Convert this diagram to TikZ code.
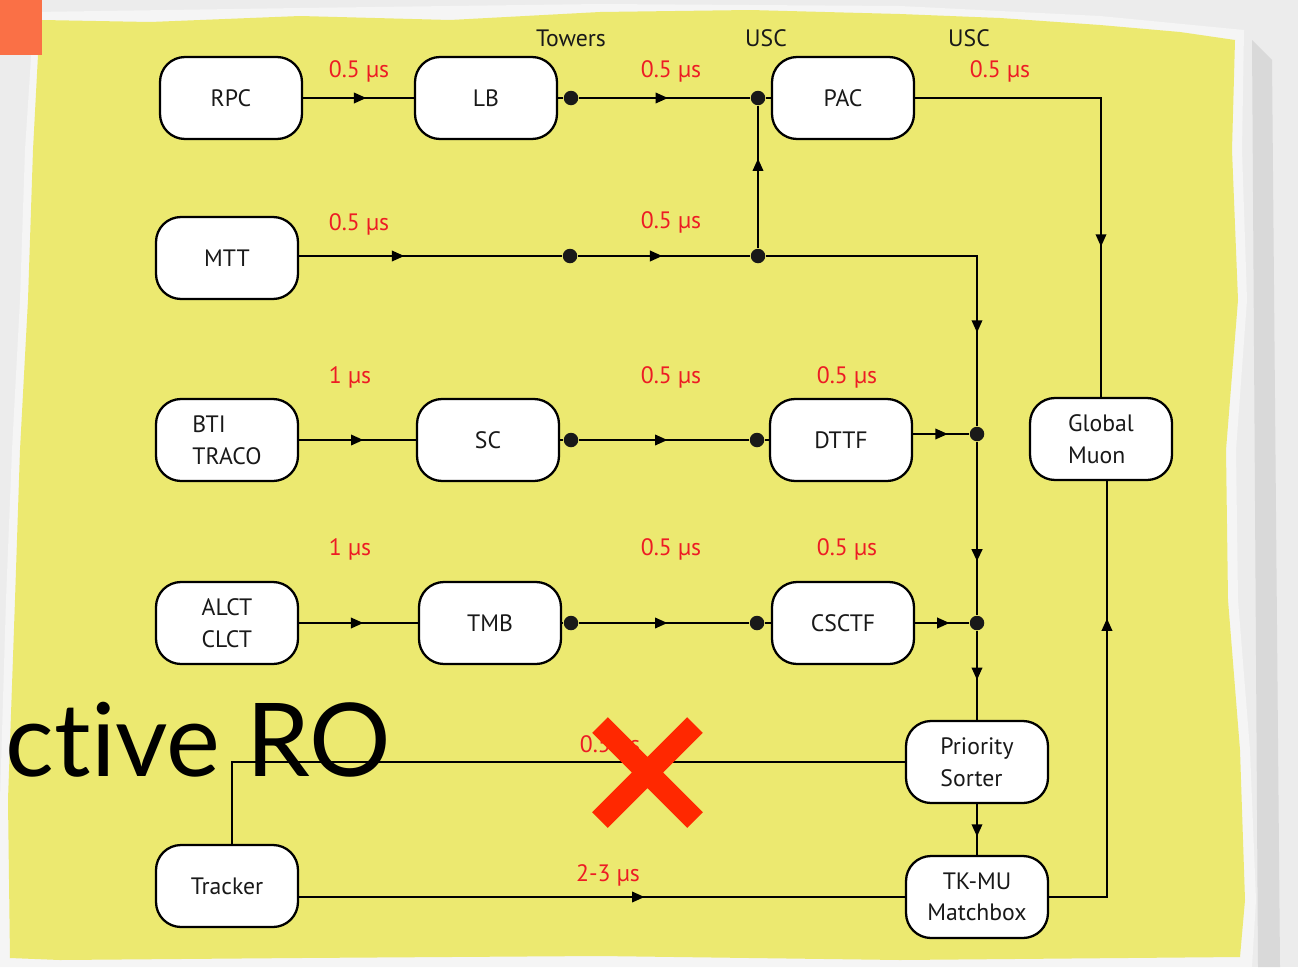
\documentclass[tikz,border=0pt]{standalone}
\usepackage{fontspec}
\setmainfont{PT Sans}
\newfontfamily\bigfont[Ligatures=NoCommon]{Lato}
\usetikzlibrary{arrows.meta,decorations.markings}
\definecolor{paper}{RGB}{236,233,112}
\definecolor{labred}{RGB}{237,28,36}
\definecolor{crossred}{RGB}{255,40,0}
\definecolor{tab}{RGB}{250,112,70}
\tikzset{
  blk/.style={draw,line width=1.3pt,rounded corners=0.5cm,fill=white,
    minimum width=2.84cm,minimum height=1.64cm,inner sep=2pt,
    font=\fontsize{13.5}{18}\selectfont,text=black!90},
  dot/.style={circle,fill=black!90,inner sep=0pt,minimum size=0.29cm},
  lat/.style={text=labred,font=\fontsize{13.5}{16}\selectfont},
  loc/.style={text=black!90,font=\fontsize{13.5}{16}\selectfont},
  flow/.style={postaction={decorate},decoration={markings,
    mark=at position #1 with {\arrow{Triangle[length=7pt,width=6pt]}}}},
}
\begin{document}
\begin{tikzpicture}[x=0.02cm,y=-0.02cm,line width=1pt]
\useasboundingbox (0,0) rectangle (1298,967);
%
\fill[gray!15] (0,0) rectangle (1298,967);
\fill[gray!30] (1252,40) -- (1272,60) -- (1280,967) -- (1258,967) -- cycle;
\fill[white!92!gray] (34,12) -- (300,8) -- (600,4) -- (900,6) -- (1100,16) -- (1244,30)
  -- (1242,150) -- (1247,300) -- (1236,450) -- (1238,600) -- (1250,750) -- (1256,900)
  -- (1252,967) -- (0,967) -- (0,800) -- (6,600) -- (12,450) -- (20,300) -- (25,150) -- cycle;
\fill[paper] (42,20) -- (150,22) -- (300,16) -- (450,20) -- (600,12) -- (750,10) -- (900,14)
  -- (1000,18) -- (1100,25) -- (1180,32) -- (1235,40) -- (1232,150) -- (1238,300)
  -- (1226,450) -- (1228,600) -- (1240,750) -- (1245,900) -- (1240,957) -- (900,960)
  -- (600,956) -- (300,958) -- (60,960) -- (10,958) -- (8,800) -- (15,600) -- (20,450)
  -- (28,300) -- (33,150) -- (38,55) -- cycle;
\fill[tab] (0,0) rectangle (42,55);
%
\node (rpc) at (231,98) [blk] {RPC};
\node (lb) at (486,98) [blk] {LB};
\node (pac) at (843,98) [blk] {PAC};
\node (mtt) at (227,258) [blk] {MTT};
\node (bti) at (227,440) [blk,align=left] {BTI\\TRACO};
\node (sc) at (488,440) [blk] {SC};
\node (dttf) at (841,440) [blk] {DTTF};
\node (alct) at (227,623) [blk,align=left] {ALCT\\CLCT};
\node (tmb) at (490,623) [blk] {TMB};
\node (csctf) at (843,623) [blk] {CSCTF};
\node (gm) at (1101,439) [blk,align=left] {Global\\Muon};
\node (ps) at (977,762) [blk,align=left] {Priority\\Sorter};
\node (tk) at (977,897) [blk,align=center] {TK-MU\\Matchbox};
\node (trk) at (227,886) [blk] {Tracker};
%
\node (l1) at (571,98) [dot] {};
\node (l2) at (758,98) [dot] {};
\node (m1) at (570,256) [dot] {};
\node (m2) at (758,256) [dot] {};
\node (s1) at (571,440) [dot] {};
\node (s2) at (757,440) [dot] {};
\node (t1) at (571,623) [dot] {};
\node (t2) at (757,623) [dot] {};
\node (b1) at (977,434) [dot] {};
\node (b2) at (977,623) [dot] {};
%%
\draw (rpc) edge[flow=0.57] (lb);
\draw (lb) edge (l1);
\draw (l1) edge[flow=0.52] (l2);
\draw (l2) edge (pac);
\draw[flow=0.69] (pac.east) -| (gm.north);
%
\draw (mtt.east |- m1) edge[flow=0.40] (m1);
\draw (m1) edge[flow=0.49] (m2);
\draw (m2) edge[flow=0.63] (l2);
\draw[flow=0.755] (m2) -| (b1);
%
\draw (bti) edge[flow=0.55] (sc);
\draw (sc) edge (s1);
\draw (s1) edge[flow=0.52] (s2);
\draw (s2) edge (dttf);
\draw (dttf.east |- b1) edge[flow=0.62] (b1);
%
\draw (alct) edge[flow=0.54] (tmb);
\draw (tmb) edge (t1);
\draw (t1) edge[flow=0.52] (t2);
\draw (t2) edge (csctf);
\draw (csctf) edge[flow=0.64] (b2);
%
\draw[line width=1.6pt] (b1) edge[flow=0.69] (b2);
\draw (b2) edge[flow=0.55] (ps);
\draw (ps) edge[flow=0.64] (tk);
%
\draw (ps.west) -| ([xshift=2.8pt]trk.north);
\draw (trk.east |- tk.west) edge[flow=0.57] (tk.west);
\draw[flow=0.71] (tk.east) -| ([xshift=3.4pt]gm.south);
%%
\node (tw) at (571,38) [loc] {Towers};
\node (usc1) at (766,38) [loc] {USC};
\node (usc2) at (969,38) [loc] {USC};
%
\node (d1) at (359,71) [lat] {0.5 µs};
\node (d2) at (671,71) [lat] {0.5 µs};
\node (d3) at (1000,71) [lat] {0.5 µs};
\node (d4) at (359,224) [lat] {0.5 µs};
\node (d5) at (671,222) [lat] {0.5 µs};
\node (d6) at (350,377) [lat] {1 µs};
\node (d7) at (671,377) [lat] {0.5 µs};
\node (d8) at (847,377) [lat] {0.5 µs};
\node (d9) at (350,549) [lat] {1 µs};
\node (d10) at (671,549) [lat] {0.5 µs};
\node (d11) at (847,549) [lat] {0.5 µs};
\node (d12) at (610,746) [lat] {0.5 µs};
\node (d13) at (608,875) [lat] {2-3 µs};
%
\node (ro) at (5,776) [anchor=base west,inner sep=0pt,
  font=\bigfont\fontsize{58}{58}\selectfont] {ctive RO};
\draw[crossred,line width=12.5pt] (600,725) -- (695,820) (695,725) -- (600,820);
\end{tikzpicture}
\end{document}
